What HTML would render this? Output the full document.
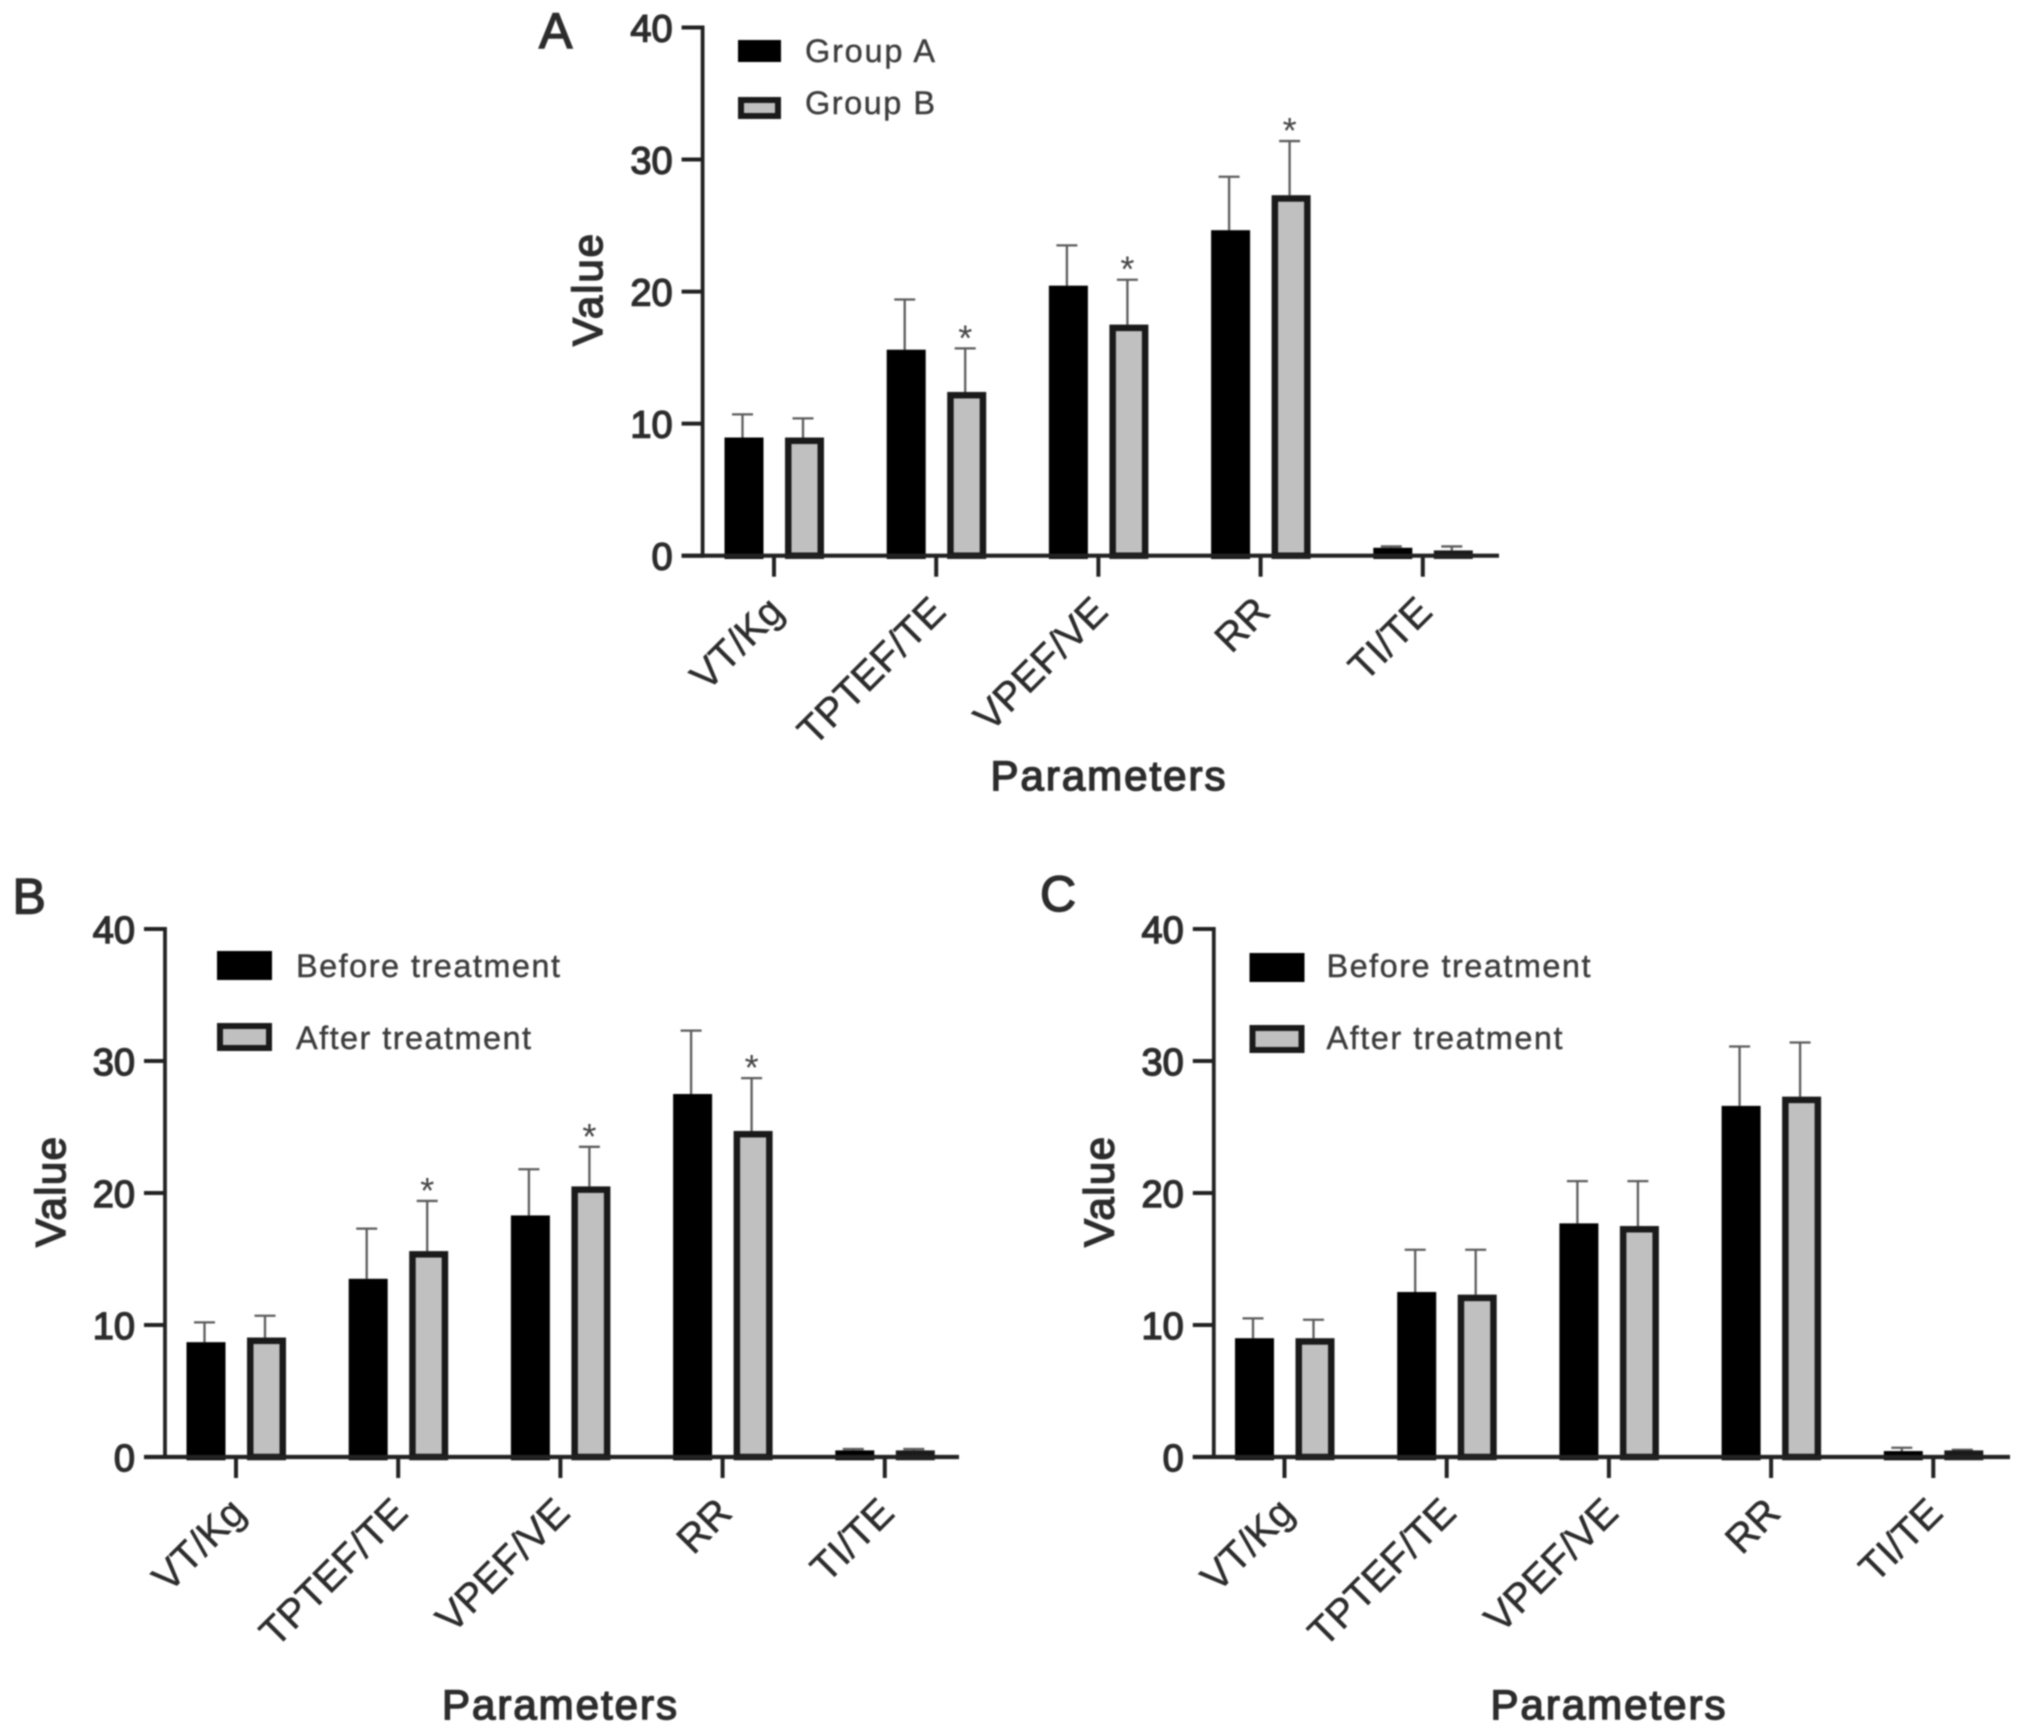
<!DOCTYPE html>
<html lang="en">
<head>
<meta charset="utf-8">
<title>Respiratory parameters by group and treatment</title>
<style>
html,body{margin:0;padding:0;background:#fff;width:2031px;height:1736px;overflow:hidden}
svg{display:block;filter:blur(0.8px)}
text{font-family:"Liberation Sans",Arial,sans-serif;fill:#2c2c2c}
.tick,.cat,.title,.letter,.leg{stroke:#2c2c2c;paint-order:stroke}
.tick{font-size:38px;stroke-width:1.4px;text-anchor:end}
.cat{font-size:40px;stroke-width:.5px;text-anchor:end}
.title{font-size:42px;stroke-width:1.5px}
.letter{font-size:50px;stroke-width:1.4px}
.leg{font-size:32.5px;fill:#3c3c3c;stroke:#3c3c3c;stroke-width:.4px}
.star{font-size:36px;text-anchor:middle;fill:#444}
</style>
</head>
<body>
<svg id="figure" xmlns="http://www.w3.org/2000/svg" width="2031" height="1736" viewBox="0 0 2031 1736">
  <rect width="2031" height="1736" fill="#fff"/>

  <g id="panel-a">
    <text class="letter" x="539" y="48">A</text>
    <text class="title" transform="translate(602,290) rotate(-90)" text-anchor="middle" textLength="112">Value</text>
    <text class="title" x="1108" y="790" text-anchor="middle" textLength="235">Parameters</text>
    <rect x="738" y="40" width="43" height="22" fill="#000"/>
    <rect x="741" y="100" width="37" height="16" fill="#c0c0c0" stroke="#1a1a1a" stroke-width="6"/>
    <text class="leg" x="805" y="62" textLength="130">Group A</text>
    <text class="leg" x="805" y="114" textLength="130">Group B</text>
  </g>

  <g id="panel-b">
    <text class="letter" x="12.5" y="913.5">B</text>
    <text class="title" transform="translate(65,1192) rotate(-90)" text-anchor="middle" textLength="110">Value</text>
    <text class="title" x="559.5" y="1719" text-anchor="middle" textLength="235">Parameters</text>
    <rect x="217" y="951" width="55" height="29" fill="#000"/>
    <rect x="220" y="1026" width="49" height="22" fill="#c0c0c0" stroke="#1a1a1a" stroke-width="6"/>
    <text class="leg" x="296" y="977" textLength="264">Before treatment</text>
    <text class="leg" x="296" y="1049" textLength="235">After treatment</text>
  </g>

  <g id="panel-c">
    <text class="letter" x="1040" y="911">C</text>
    <text class="title" transform="translate(1113.5,1192) rotate(-90)" text-anchor="middle" textLength="110">Value</text>
    <text class="title" x="1608" y="1719" text-anchor="middle" textLength="235">Parameters</text>
    <rect x="1249.5" y="953" width="55" height="29" fill="#000"/>
    <rect x="1252.5" y="1028" width="49" height="22" fill="#c0c0c0" stroke="#1a1a1a" stroke-width="6"/>
    <text class="leg" x="1326.5" y="977" textLength="264">Before treatment</text>
    <text class="leg" x="1326.5" y="1049" textLength="236">After treatment</text>
  </g>
</svg>

<script>
const categories = ["VT/Kg", "TPTEF/TE", "VPEF/VE", "RR", "TI/TE"];
const yTicks = [0, 10, 20, 30, 40];

const panelAFirst = [8.95, 15.6, 20.45, 24.65, 0.6];
const panelAFirstTop = [10.7, 19.4, 23.5, 28.7, 0.7];
const panelASecond = [8.95, 12.4, 17.5, 27.3, 0.4];
const panelASecondTop = [10.4, 15.7, 20.9, 31.4, 0.7];
const panelAStars = [false, true, true, true, false];

const panelBFirst = [8.7, 13.5, 18.3, 27.5, 0.5];
const panelBFirstTop = [10.2, 17.3, 21.8, 32.3, 0.6];
const panelBSecond = [9.05, 15.6, 20.5, 24.7, 0.5];
const panelBSecondTop = [10.7, 19.4, 23.5, 28.7, 0.6];
const panelBStars = [false, true, true, true, false];

const panelCFirst = [9.0, 12.5, 17.7, 26.6, 0.45];
const panelCFirstTop = [10.5, 15.7, 20.9, 31.1, 0.7];
const panelCSecond = [9.0, 12.3, 17.5, 27.3, 0.5];
const panelCSecondTop = [10.4, 15.7, 20.9, 31.4, 0.55];
const panelCStars = [false, false, false, false, false];

const SVG_NS = "http://www.w3.org/2000/svg";

function el(parent, tag, attrs, text) {
  const node = document.createElementNS(SVG_NS, tag);
  for (const key in attrs) node.setAttribute(key, attrs[key]);
  if (text !== undefined) node.textContent = text;
  parent.appendChild(node);
  return node;
}

function drawPanel(id, axisX, axisRight, yZero, yTop, firstTick, first, firstTop, second, secondTop, stars) {
  const root = document.getElementById(id);
  const step = 162.2;
  const barW = 39;
  const barStroke = 6.5;
  const xScale = i => firstTick + i * step;
  const yScale = v => yZero - (v / 40) * (yZero - yTop);

  function drawBar(i, value, top, dx, fill, label, star) {
    const cx = xScale(i) + dx;
    const ex = cx - 1.5;
    const capHalf = 10.5;
    const stem = el(root, "line", {x1: ex, x2: ex, y1: yScale(top), y2: yScale(value), stroke: "#5c5c5c", "stroke-width": 2.3});
    
    
    const cap = el(root, "line", {x1: ex - capHalf, x2: ex + capHalf, y1: yScale(top), y2: yScale(top), stroke: "#5c5c5c", "stroke-width": 2.3});
    
    
    const h = Math.max(0.5, yZero - yScale(value) - barStroke / 2);
    const bar = el(root, "rect", {
      x: cx - barW / 2 + barStroke / 2,
      y: yScale(value) + barStroke / 2,
      width: barW - barStroke,
      height: h,
      fill: fill,
      stroke: fill === "#000" ? "#000" : "#1a1a1a",
      "stroke-width": barStroke
    });
    
    
    if (star) {
      const mark = el(root, "text", {class: "star", x: ex, y: yScale(top) + 2}, "*");
      
      
    }
  }

  categories.forEach((name, i) => {
    const slug = name.toLowerCase().replace("/", "-");
    drawBar(i, first[i], firstTop[i], -30, "#000", slug + "-first", false);
    drawBar(i, second[i], secondTop[i], 30.5, "#c0c0c0", slug + "-second", stars[i]);
  });

  const yAxis = el(root, "line", {x1: axisX, x2: axisX, y1: yTop - 2, y2: yZero + 2, stroke: "#222", "stroke-width": 3.8});
  
  
  const xAxis = el(root, "line", {x1: axisX - 21, x2: axisRight, y1: yZero, y2: yZero, stroke: "#222", "stroke-width": 4.2});
  
  

  yTicks.forEach(v => {
    const mark = el(root, "line", {x1: axisX - 21, x2: axisX, y1: yScale(v), y2: yScale(v), stroke: "#222", "stroke-width": 4});
    
    
    const label = el(root, "text", {class: "tick", x: axisX - 30, y: yScale(v) + 14}, String(v));
    
    
  });

  categories.forEach((name, i) => {
    const slug = name.toLowerCase().replace("/", "-");
    const x = xScale(i);
    const mark = el(root, "line", {x1: x, x2: x, y1: yZero, y2: yZero + 21, stroke: "#222", "stroke-width": 4});
    
    
    const label = el(root, "text", {class: "cat", transform: "translate(" + (x + 11.5) + "," + (yZero + 58) + ") rotate(-45)"}, name);
    
    
  });
}

drawPanel("panel-a", 702.6, 1499, 555.7, 27.5, 774, panelAFirst, panelAFirstTop, panelASecond, panelASecondTop, panelAStars);
drawPanel("panel-b", 165, 959, 1457, 929, 236, panelBFirst, panelBFirstTop, panelBSecond, panelBSecondTop, panelBStars);
drawPanel("panel-c", 1213.8, 2010, 1457, 929, 1284.5, panelCFirst, panelCFirstTop, panelCSecond, panelCSecondTop, panelCStars);
</script>
</body>
</html>
